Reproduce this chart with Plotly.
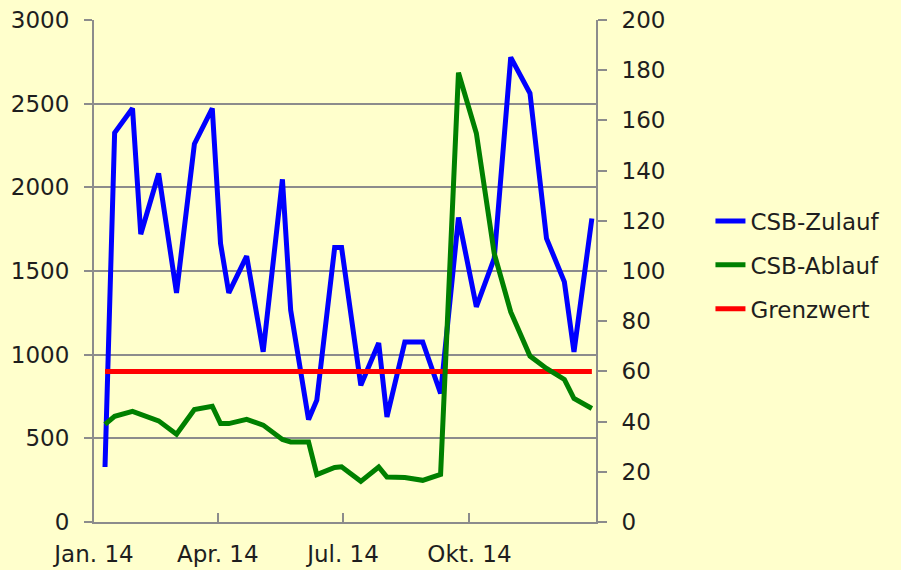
import plotly.graph_objects as go

dates = ["2014-01-09", "2014-01-16", "2014-01-29", "2014-02-04", "2014-02-17", "2014-03-02",
         "2014-03-15", "2014-03-28", "2014-04-03", "2014-04-09", "2014-04-22", "2014-05-04",
         "2014-05-18", "2014-05-24", "2014-06-06", "2014-06-12", "2014-06-25", "2014-06-30",
         "2014-07-14", "2014-07-27", "2014-08-02", "2014-08-15", "2014-08-28", "2014-09-10",
         "2014-09-23", "2014-10-06", "2014-10-19", "2014-10-31", "2014-11-14", "2014-11-26",
         "2014-12-09", "2014-12-16", "2014-12-29"]

csb_zulauf = [329, 2326, 2472, 1720, 2083, 1369, 2259, 2472, 1665, 1369, 1589, 1017,
              2048, 1266, 612, 728, 1641, 1641, 817, 1070, 628, 1076, 1076, 768,
              1820, 1286, 1575, 2777, 2562, 1695, 1435, 1017, 1814]

csb_ablauf = [38.9, 42.1, 44.1, 42.9, 40.3, 35.0, 44.8, 46.1, 39.2, 39.2, 40.9, 38.6,
              32.9, 31.9, 31.9, 18.9, 21.7, 22.0, 16.2, 21.9, 17.9, 17.7, 16.6, 19.0,
              179.0, 154.9, 107.0, 83.7, 66.1, 61.2, 56.8, 49.2, 45.2]

grenzwert = [900] * len(dates)

tick_dates = ["2014-01-01", "2014-04-01", "2014-07-01", "2014-10-01"]
tick_labels = ["Jan. 14", "Apr. 14", "Jul. 14", "Okt. 14"]

left_ticks = [0, 500, 1000, 1500, 2000, 2500, 3000]
right_ticks = [0, 20, 40, 60, 80, 100, 120, 140, 160, 180, 200]

BG = "#FFFFCC"
GRID = "#8C8C8C"
FONT = dict(family="DejaVu Sans", size=23, color="#1E1E1E")

fig = go.Figure()
fig.add_trace(go.Scatter(x=dates, y=csb_zulauf, name="CSB-Zulauf", mode="lines",
                         line=dict(color="#0000FF", width=5), yaxis="y",
                         legendgroup="a", legendrank=1))
fig.add_trace(go.Scatter(x=dates, y=grenzwert, name="Grenzwert", mode="lines",
                         line=dict(color="#FF0000", width=5), yaxis="y",
                         legendgroup="c", legendrank=3))
fig.add_trace(go.Scatter(x=dates, y=csb_ablauf, name="CSB-Ablauf", mode="lines",
                         line=dict(color="#008000", width=5), yaxis="y2",
                         legendgroup="b", legendrank=2))

fig.update_layout(
    width=901, height=570,
    margin=dict(l=94, r=305, t=20, b=48, autoexpand=False),
    paper_bgcolor=BG, plot_bgcolor=BG,
    font=FONT,
    showlegend=True,
    legend=dict(x=1.228, y=0.512, xanchor="left", yanchor="middle",
                bgcolor="rgba(0,0,0,0)", font=FONT, tracegroupgap=11,
                traceorder="grouped"),
    xaxis=dict(type="date", range=["2014-01-01", "2015-01-01"],
               tickvals=tick_dates, ticktext=tick_labels, automargin=False,
               ticks="inside", ticklen=9, tickwidth=2, tickcolor=GRID,
               showline=True, linecolor=GRID, linewidth=2,
               showgrid=False, zeroline=False, ticklabelstandoff=10),
    yaxis=dict(range=[0, 3000], tickvals=left_ticks, automargin=False,
               ticks="outside", ticklen=8, tickwidth=2, tickcolor=GRID,
               showline=True, linecolor=GRID, linewidth=2,
               showgrid=True, gridcolor=GRID, gridwidth=2, zeroline=False,
               ticklabelstandoff=10),
    yaxis2=dict(range=[0, 200], tickvals=right_ticks, overlaying="y", side="right",
                automargin=False,
                ticks="outside", ticklen=9, tickwidth=2, tickcolor=GRID,
                showline=True, linecolor=GRID, linewidth=2,
                showgrid=False, zeroline=False, ticklabelstandoff=10),
)

fig.write_html("out.html", config={"displayModeBar": False},
               post_script="document.body.style.margin='0px';document.body.style.overflow='hidden';")
